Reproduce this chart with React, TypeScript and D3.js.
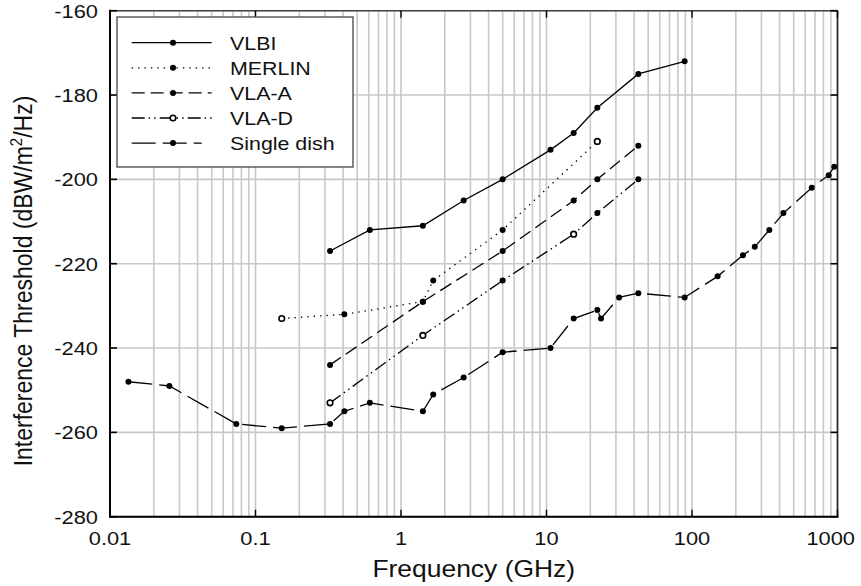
import React from "react";
import * as d3 from "d3";

// ---- data (ITU-R style interference thresholds) ----
const vlbiFreq = [0.3253, 0.611, 1.4135, 2.695, 4.995, 10.65, 15.375, 22.355, 42.77, 89];
const vlbiLevel = [-217, -212, -211, -205, -200, -193, -189, -183, -175, -172];

const merlinFreq = [0.1515, 0.408, 1.4135, 1.665, 4.995, 22.355];
const merlinLevel = [-233, -232, -229, -224, -212, -191];
const merlinOpen = [true, false, false, false, false, true];

const vlaAFreq = [0.3253, 1.4135, 4.995, 15.375, 22.355, 42.77];
const vlaALevel = [-244, -229, -217, -205, -200, -192];

const vlaDFreq = [0.3253, 1.4135, 4.995, 15.375, 22.355, 42.77];
const vlaDLevel = [-253, -237, -224, -213, -208, -200];
const vlaDOpen = [true, true, false, true, false, false];

const singleFreq = [0.013385, 0.02561, 0.0738, 0.1515, 0.3253, 0.408, 0.611, 1.4135, 1.665, 2.695, 4.995, 10.65, 15.375, 22.355, 23.7, 31.55, 42.77, 89, 150, 224, 270, 340, 425, 665, 870, 950];
const singleLevel = [-248, -249, -258, -259, -258, -255, -253, -255, -251, -247, -241, -240, -233, -231, -233, -228, -227, -228, -223, -218, -216, -212, -208, -202, -199, -197];

const seriesNames = ["VLBI", "MERLIN", "VLA-A", "VLA-D", "Single dish"];
const xTickValues = [0.01, 0.1, 1, 10, 100, 1000];
const xTickLabels = ["0.01", "0.1", "1", "10", "100", "1000"];
const yTickValues = [-280, -260, -240, -220, -200, -180, -160];

// ---- layout ----
const W = 861;
const H = 586;
const SX = 1.15; // horizontal stretch of glyphs in the reference
const FONT = "'Liberation Sans', Arial, Helvetica, sans-serif";
const x = d3.scaleLog().domain([0.01, 1000]).range([110, 837.5]);
const y = d3.scaleLinear().domain([-280, -160]).range([516.7, 10.7]);
const [x0, x1] = x.range();
const [y0, y1] = y.range();

type Series = {
  name: string;
  freq: number[];
  level: number[];
  open?: boolean[];
  dash: string | undefined;
  legendOpen: boolean;
};

const series: Series[] = [
  { name: seriesNames[0], freq: vlbiFreq, level: vlbiLevel, dash: undefined, legendOpen: false },
  { name: seriesNames[1], freq: merlinFreq, level: merlinLevel, open: merlinOpen, dash: "1.4,5", legendOpen: false },
  { name: seriesNames[2], freq: vlaAFreq, level: vlaALevel, dash: "13,6", legendOpen: false },
  { name: seriesNames[3], freq: vlaDFreq, level: vlaDLevel, open: vlaDOpen, dash: "13,4,1.5,4,1.5,4", legendOpen: true },
  { name: seriesNames[4], freq: singleFreq, level: singleLevel, dash: "24,7", legendOpen: false },
];

function SText(props: {
  x: number;
  y: number;
  size: number;
  anchor?: "start" | "middle" | "end";
  rotate?: boolean;
  children: React.ReactNode;
}) {
  const { x: tx, y: ty, size, anchor = "start", rotate, children } = props;
  return (
    <g transform={`translate(${tx},${ty}) scale(${SX},1)${rotate ? " rotate(-90)" : ""}`}>
      <text fontSize={size} textAnchor={anchor} fontFamily={FONT} fill="#111">
        {children}
      </text>
    </g>
  );
}

function Marker({ cx, cy, open }: { cx: number; cy: number; open: boolean }) {
  return open ? (
    <circle cx={cx} cy={cy} r={2.8} fill="#fff" stroke="#000" strokeWidth={1.6} />
  ) : (
    <circle cx={cx} cy={cy} r={3} fill="#000" />
  );
}

export default function App() {
  const line = d3
    .line<[number, number]>()
    .x((d) => x(d[0]))
    .y((d) => y(d[1]));

  const minorX = x.ticks();

  const legend = { left: 117, top: 17, right: 353, bottom: 167 };
  const rowY = (i: number) => 42.7 + i * 25.1;

  return (
    <svg
      width={W}
      height={H}
      viewBox={`0 0 ${W} ${H}`}
      style={{ position: "absolute", left: 0, top: 0, background: "#fff" }}
    >
      {/* vertical grid */}
      {minorX.map((v, i) => (
        <line key={"gx" + i} x1={x(v)} x2={x(v)} y1={y1} y2={y0} stroke="#c8c8c8" strokeWidth={1.6} />
      ))}
      {/* horizontal grid */}
      {yTickValues.map((v) => (
        <line key={"gy" + v} x1={x0} x2={x1} y1={y(v)} y2={y(v)} stroke="#c8c8c8" strokeWidth={1.6} />
      ))}

      {/* frame */}
      <line x1={x0} x2={x1} y1={y1} y2={y1} stroke="#444" strokeWidth={1.4} />
      <line x1={x1} x2={x1} y1={y1} y2={y0} stroke="#222" strokeWidth={1.6} />
      <line x1={x0} x2={x0} y1={y1 - 1} y2={y0 + 1} stroke="#000" strokeWidth={2} />
      <line x1={x0 - 1} x2={x1 + 1} y1={y0} y2={y0} stroke="#000" strokeWidth={2} />

      {/* ticks */}
      {xTickValues.map((v) => (
        <g key={"tx" + v}>
          <line x1={x(v)} x2={x(v)} y1={y0} y2={y0 - 7} stroke="#000" strokeWidth={1.4} />
          <line x1={x(v)} x2={x(v)} y1={y1} y2={y1 + 7} stroke="#000" strokeWidth={1.4} />
        </g>
      ))}
      {yTickValues.map((v) => (
        <g key={"ty" + v}>
          <line x1={x0} x2={x0 + 7} y1={y(v)} y2={y(v)} stroke="#000" strokeWidth={1.6} />
          <line x1={x1} x2={x1 - 7} y1={y(v)} y2={y(v)} stroke="#000" strokeWidth={1.6} />
        </g>
      ))}

      {/* tick labels */}
      {yTickValues.map((v) => (
        <SText key={"ly" + v} x={98} y={y(v) + 7} size={19} anchor="end">
          {String(v)}
        </SText>
      ))}
      {xTickValues.map((v, i) => {
        const px = Math.min(x(v), 855 - (xTickLabels[i].length * 0.556 * 19 * SX) / 2);
        return (
          <SText key={"lx" + v} x={px} y={545} size={19} anchor="middle">
            {xTickLabels[i]}
          </SText>
        );
      })}

      {/* axis titles */}
      <SText x={(x0 + x1) / 2} y={577} size={23} anchor="middle">
        Frequency (GHz)
      </SText>
      <SText x={32} y={281} size={23} anchor="middle" rotate>
        Interference Threshold (dBW/m
        <tspan fontSize={15} dy={-9}>
          2
        </tspan>
        <tspan dy={9}>/Hz)</tspan>
      </SText>

      {/* series */}
      {series.map((s) => {
        const pts = s.freq.map((f, i) => [f, s.level[i]] as [number, number]);
        return (
          <g key={s.name}>
            <path
              d={line(pts) || ""}
              fill="none"
              stroke="#000"
              strokeWidth={1.3}
              strokeDasharray={s.dash}
            />
            {pts.map((p, i) => (
              <Marker key={i} cx={x(p[0])} cy={y(p[1])} open={s.open ? s.open[i] : false} />
            ))}
          </g>
        );
      })}

      {/* legend */}
      <rect
        x={legend.left}
        y={legend.top}
        width={legend.right - legend.left}
        height={legend.bottom - legend.top}
        fill="#fff"
        stroke="#444"
        strokeWidth={1.3}
      />
      {series.map((s, i) => {
        const ly = rowY(i);
        const xEnd = i === 4 ? 201.7 : 211.7;
        return (
          <g key={"leg" + s.name}>
            <line x1={131.7} x2={xEnd} y1={ly} y2={ly} stroke="#000" strokeWidth={1.3} strokeDasharray={s.dash} />
            <Marker cx={173} cy={ly} open={s.legendOpen} />
            <SText x={230} y={ly + 6.8} size={18.6}>
              {s.name}
            </SText>
          </g>
        );
      })}
    </svg>
  );
}
